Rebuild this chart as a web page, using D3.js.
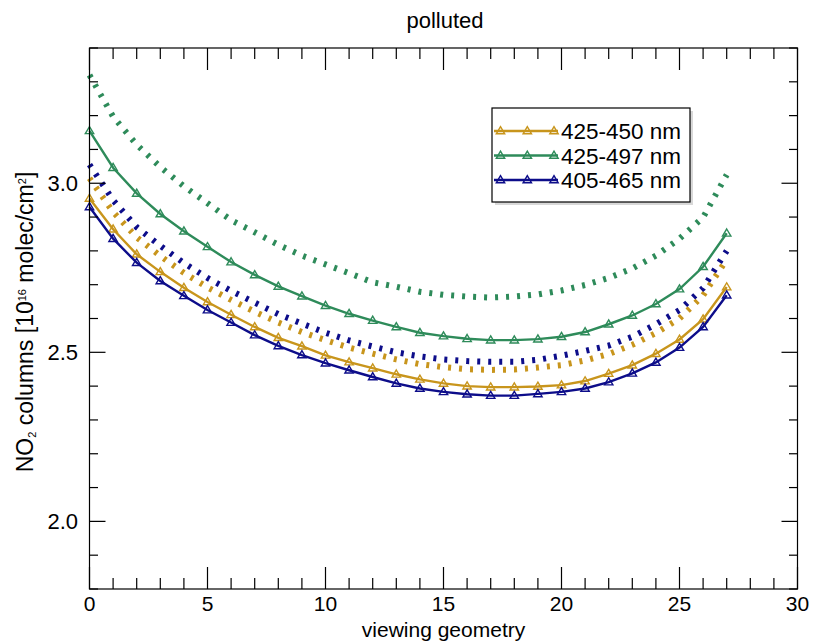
<!DOCTYPE html>
<html>
<head>
<meta charset="utf-8">
<script src="https://cdn.jsdelivr.net/npm/d3@7"></script>
<style>
  body { margin: 0; background: #fff; }
  svg { display: block; }
  text { font-family: "Liberation Sans", Arial, Helvetica, sans-serif; fill: #000; }
</style>
</head>
<body>
<svg id="chart" width="817" height="644"></svg>
<script>
// ---- data ----
const geometry = d3.range(0, 28); // viewing geometry 0..27

const seriesNames = ["425-450 nm", "425-497 nm", "405-465 nm"];
const seriesColors = ["#c8951c", "#2e8b5a", "#0d0d8a"];

// solid lines (with triangle markers)
const solid_425_450 = [2.955, 2.864, 2.790, 2.738, 2.691, 2.649, 2.611, 2.575, 2.543, 2.518, 2.491, 2.471, 2.453, 2.435, 2.420, 2.408, 2.400, 2.397, 2.397, 2.399, 2.403, 2.415, 2.437, 2.462, 2.496, 2.538, 2.598, 2.693];
const solid_425_497 = [3.155, 3.046, 2.970, 2.909, 2.858, 2.812, 2.767, 2.729, 2.695, 2.666, 2.638, 2.614, 2.594, 2.575, 2.558, 2.548, 2.540, 2.536, 2.536, 2.539, 2.546, 2.560, 2.583, 2.609, 2.643, 2.687, 2.753, 2.852];
const solid_405_465 = [2.930, 2.836, 2.765, 2.711, 2.667, 2.625, 2.588, 2.551, 2.519, 2.492, 2.468, 2.447, 2.427, 2.408, 2.393, 2.383, 2.376, 2.372, 2.372, 2.377, 2.383, 2.393, 2.412, 2.438, 2.470, 2.514, 2.575, 2.669];

// dotted lines
const dotted_425_450 = [3.015, 2.915, 2.840, 2.785, 2.735, 2.692, 2.655, 2.620, 2.588, 2.560, 2.536, 2.514, 2.496, 2.479, 2.465, 2.456, 2.450, 2.448, 2.449, 2.455, 2.462, 2.476, 2.495, 2.522, 2.557, 2.600, 2.668, 2.775];
const dotted_425_497 = [3.320, 3.197, 3.114, 3.048, 2.991, 2.941, 2.891, 2.855, 2.818, 2.786, 2.760, 2.734, 2.707, 2.694, 2.679, 2.670, 2.665, 2.662, 2.665, 2.671, 2.683, 2.699, 2.720, 2.748, 2.786, 2.836, 2.899, 3.025];
const dotted_405_465 = [3.055, 2.950, 2.870, 2.815, 2.764, 2.720, 2.682, 2.647, 2.613, 2.585, 2.558, 2.535, 2.517, 2.500, 2.488, 2.479, 2.474, 2.472, 2.472, 2.478, 2.490, 2.504, 2.520, 2.546, 2.583, 2.625, 2.690, 2.800];

const solidSeries = [solid_425_450, solid_425_497, solid_405_465];
const dottedSeries = [dotted_425_450, dotted_425_497, dotted_405_465];

const xMajorTicks = [0, 5, 10, 15, 20, 25, 30];
const yMajorTicks = [2.0, 2.5, 3.0];
const xDomain = [0, 30];
const yDomain = [1.8, 3.4];

const titleText = "polluted";
const xTitle = "viewing geometry";

// ---- layout ----
const svg = d3.select("#chart");
const L = 89.5, R = 797.5, T = 48, B = 589;
const x = d3.scaleLinear().domain(xDomain).range([L, R]);
const y = d3.scaleLinear().domain(yDomain).range([B, T]);

// dotted lines first
const line = d3.line().x((d, i) => x(geometry[i])).y(d => y(d));
dottedSeries.forEach((s, k) => {
  svg.append("path")
    .attr("d", line(s))
    .attr("fill", "none")
    .attr("stroke", seriesColors[k])
    .attr("stroke-width", 6)
    .attr("stroke-dasharray", "3,8");
});

// triangle marker path
const tri = "M0,-4.3L4.2,2.8L-4.2,2.8Z";

solidSeries.forEach((s, k) => {
  svg.append("path")
    .attr("d", line(s))
    .attr("fill", "none")
    .attr("stroke", seriesColors[k])
    .attr("stroke-width", 2.4);
  svg.append("g").selectAll("path")
    .data(s)
    .join("path")
    .attr("d", tri)
    .attr("transform", (d, i) => `translate(${x(geometry[i])},${y(d)})`)
    .attr("fill", "none")
    .attr("stroke", seriesColors[k])
    .attr("stroke-width", 1.4);
});

// frame
svg.append("rect")
  .attr("x", L).attr("y", T).attr("width", R - L).attr("height", B - T)
  .attr("fill", "none").attr("stroke", "#000").attr("stroke-width", 1.2);

// ticks (inward, all four sides)
const tg = svg.append("g").attr("stroke", "#000").attr("stroke-width", 1.2);
d3.range(0, 31, 1).forEach(v => {
  const major = v % 5 === 0;
  const len = major ? 22 : 11;
  tg.append("line").attr("x1", x(v)).attr("x2", x(v)).attr("y1", B).attr("y2", B - len);
  tg.append("line").attr("x1", x(v)).attr("x2", x(v)).attr("y1", T).attr("y2", T + len);
});
d3.range(18, 35, 1).forEach(t => {
  const v = t / 10;
  const major = t % 5 === 0;
  const len = major ? 16 : 8.5;
  tg.append("line").attr("x1", L).attr("x2", L + len).attr("y1", y(v)).attr("y2", y(v));
  tg.append("line").attr("x1", R).attr("x2", R - len).attr("y1", y(v)).attr("y2", y(v));
});

// tick labels
svg.append("g").selectAll("text").data(xMajorTicks).join("text")
  .attr("x", d => x(d)).attr("y", 611)
  .attr("text-anchor", "middle")
  .style("font-size", "21px")
  .text(d => d);
svg.append("g").selectAll("text").data(yMajorTicks).join("text")
  .attr("x", 78).attr("y", d => y(d) + 8)
  .attr("text-anchor", "end")
  .style("font-size", "22px")
  .text(d => d3.format(".1f")(d));

// axis titles
svg.append("text")
  .attr("x", (L + R) / 2).attr("y", 637)
  .attr("text-anchor", "middle")
  .style("font-size", "21px")
  .text(xTitle);

const yt = svg.append("text")
  .attr("transform", "translate(33,322) rotate(-90)")
  .attr("text-anchor", "middle")
  .style("font-size", "23px");
yt.append("tspan").text("NO");
yt.append("tspan").attr("baseline-shift", "-25%").style("font-size", "11px").text("2");
yt.append("tspan").text(" columns [10");
yt.append("tspan").attr("baseline-shift", "60%").style("font-size", "11px").text("16");
yt.append("tspan").text(" molec/cm");
yt.append("tspan").attr("baseline-shift", "60%").style("font-size", "11px").text("2");
yt.append("tspan").text("]");

// title
svg.append("text")
  .attr("x", 445).attr("y", 28)
  .attr("text-anchor", "middle")
  .style("font-size", "22px")
  .text(titleText);

// legend
const lg = { x: 492, y: 108, w: 198, h: 94 };
svg.append("rect")
  .attr("x", lg.x + 3).attr("y", lg.y + 3).attr("width", lg.w).attr("height", lg.h)
  .attr("fill", "#d8d8d8");
svg.append("rect")
  .attr("x", lg.x).attr("y", lg.y).attr("width", lg.w).attr("height", lg.h)
  .attr("fill", "#fff").attr("stroke", "#000").attr("stroke-width", 1.2);
seriesNames.forEach((name, k) => {
  const cy = 131 + k * 24.5;
  svg.append("line")
    .attr("x1", 494).attr("x2", 558).attr("y1", cy).attr("y2", cy)
    .attr("stroke", seriesColors[k]).attr("stroke-width", 2.4);
  [500.5, 527.3, 554].forEach(px => {
    svg.append("path").attr("d", tri)
      .attr("transform", `translate(${px},${cy})`)
      .attr("fill", "none").attr("stroke", seriesColors[k]).attr("stroke-width", 1.4);
  });
  svg.append("text")
    .attr("x", 561).attr("y", cy + 8)
    .style("font-size", "22.5px")
    .text(name);
});
</script>
</body>
</html>
